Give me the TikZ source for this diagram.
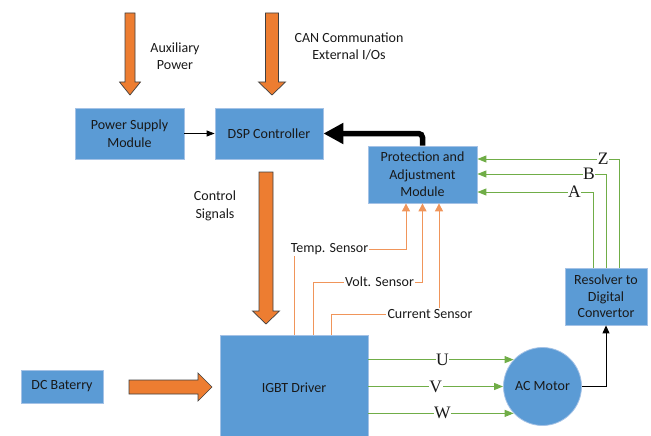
\documentclass[tikz,border=0pt]{standalone}
\usepackage{fontspec}
\setmainfont{Carlito}
\newfontfamily\lblserif{Liberation Serif}
\usetikzlibrary{arrows.meta}
\definecolor{boxblue}{HTML}{5B9BD5}
\definecolor{boxedge}{HTML}{A4C2E6}
\definecolor{blkorange}{HTML}{ED7D31}
\definecolor{sensororange}{HTML}{F0955A}
\definecolor{sigGreen}{HTML}{70AD47}
\begin{document}
\begin{tikzpicture}[x=1pt,y=-1pt,
  every node/.style={font=\fontsize{14}{17.5}\selectfont, align=center, text=black!90},
  blockbox/.style={rectangle, fill=boxblue, draw=boxedge, line width=0.8pt, inner sep=0pt},
  fatarrow/.style={fill=blkorange, draw=black!75, line width=0.7pt, line join=miter},
  sensorline/.style={draw=sensororange, line width=1pt},
  sensortip/.style={-{Triangle[length=8pt,width=8pt]}},
  greenline/.style={draw=sigGreen, line width=1pt, -{Triangle[length=9pt,width=7pt]}},
  letter/.style={font=\lblserif\fontsize{17.5}{17.5}\selectfont, fill=white, inner sep=0.5pt},
  sensortext/.style={inner sep=1pt},
]
\useasboundingbox (0,0) rectangle (651,436);

% boxes
\node[blockbox, minimum width=109pt, minimum height=51pt] (psm) at (129.5,133.5) {Power Supply\\Module};
\node[blockbox, minimum width=108pt, minimum height=51pt] (dsp) at (269,133.5) {DSP Controller};
\node[blockbox, minimum width=109pt, minimum height=57pt] (prot) at (422.5,174.5) {Protection and\\Adjustment\\Module};
\node[blockbox, minimum width=82pt, minimum height=57pt, font=\fontsize{14}{16.5}\selectfont] (res) at (606,296.5) {Resolver to\\Digital\\Convertor};
\node[blockbox, minimum width=148pt, minimum height=105pt] (igbt) at (294,387.5) {IGBT Driver};
\node[blockbox, minimum width=82pt, minimum height=33pt] (dc) at (62,386.5) {DC Baterry};
\node[blockbox, circle, minimum size=78pt] (motor) at (542.5,386.5) {AC Motor};

% free labels
\node (auxlbl) at (175,56) {Auxiliary\\Power};
\node (canlbl) at (349,46.5) {CAN Communation\\External I/Os};
\node (ctrllbl) at (215,206) {Control\\Signals};

% block arrows
\draw[fatarrow] (125,13) -- (135,13) -- (135,82) -- (140.5,82) -- (130,95) -- (119.5,82) -- (125,82) -- cycle;
\draw[fatarrow] (265.5,13) -- (278.5,13) -- (278.5,82) -- (285.5,82) -- (272,95) -- (258.5,82) -- (265.5,82) -- cycle;
\draw[fatarrow] (259,172) -- (273,172) -- (273,311) -- (279.5,311) -- (266,324) -- (252.5,311) -- (259,311) -- cycle;
\draw[fatarrow] (129,380) -- (198,380) -- (198,373) -- (212,387) -- (198,401) -- (198,394) -- (129,394) -- cycle;

% black connectors
\draw[line width=0.8pt, -{Triangle[length=8pt,width=6pt]}] (psm) -- (dsp);
\draw[line width=5.5pt, rounded corners=4pt, -{Triangle[length=20pt,width=20pt]}] (prot.north) |- (dsp.east);
\draw[line width=1pt, -{Triangle[length=8pt,width=7pt]}] (motor.east) -| (res.south);

% sensors
\node[sensortext] (temp) at (329.5,249) {Temp. Sensor};
\node[sensortext] (volt) at (379.5,282) {Volt. Sensor};
\node[sensortext] (curr) at (430,314) {Current Sensor};
\coordinate (t0) at (294,0);
\coordinate (v0) at (313,0);
\coordinate (c0) at (331,0);
\coordinate (p1) at (406,0);
\coordinate (p3) at (439,0);
\draw[sensorline] (igbt.north -| t0) -- (t0 |- temp.south);
\draw[sensorline, sensortip] (temp.east) -| (prot.south -| p1);
\draw[sensorline] (igbt.north -| v0) |- (volt.west);
\draw[sensorline, sensortip] (volt.east) -| (prot.south);
\draw[sensorline] (igbt.north -| c0) |- (curr.west);
\draw[sensorline, sensortip] (curr.north -| p3) -- (prot.south -| p3);

% resolver signals
\coordinate (gA) at (593,192);
\coordinate (gB) at (606,174);
\coordinate (gZ) at (619,159);
\draw[greenline] (res.north -| gA) |- (prot.east |- gA) node[letter, pos=0.58] {A};
\draw[greenline] (res.north -| gB) |- (prot.east |- gB) node[letter, pos=0.566] {B};
\draw[greenline] (res.north -| gZ) |- (prot.east |- gZ) node[letter, pos=0.556] {Z};

% phases
\draw[greenline] (igbt.east |- motor.137) -- (motor.137) node[letter, pos=0.51] {U};
\draw[greenline] (igbt.east |- motor.west) -- (motor.west) node[letter, pos=0.5] {V};
\draw[greenline] (igbt.east |- motor.223) -- (motor.223) node[letter, pos=0.51] {W};
\end{tikzpicture}
\end{document}
